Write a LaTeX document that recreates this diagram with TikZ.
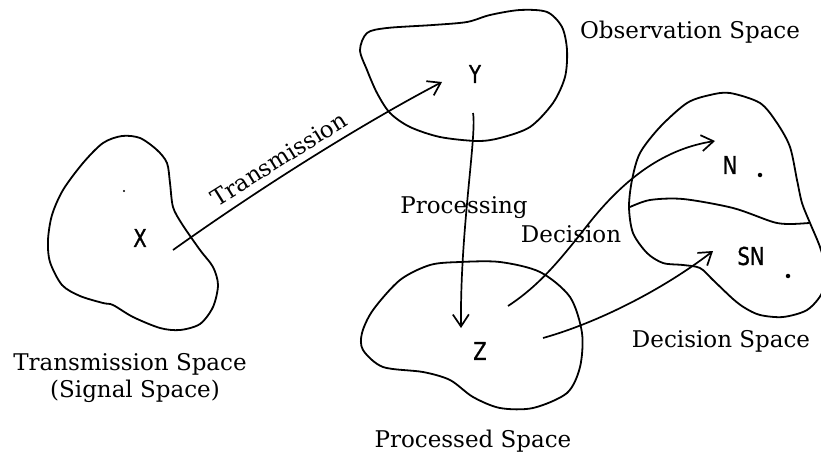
\documentclass[tikz,border=0pt]{standalone}
\usepackage{fontspec}
\setmainfont{DejaVu Serif}
\newfontfamily\lblfont[FakeStretch=0.8,FakeBold=1]{DejaVu Sans}
\usetikzlibrary{arrows.meta}
\begin{document}
\begin{tikzpicture}[x=1pt,y=-1pt,
  blob/.style={line width=1.8pt, line join=round},
  conn/.style={line width=1.7pt, -{Straight Barb[length=12pt,width=16pt,line width=1.7pt]}},
  caption/.style={font=\fontsize{23}{27}\selectfont, inner sep=0pt, anchor=base},
  letter/.style={font=\lblfont\fontsize{24.5}{28}\selectfont, inner sep=0pt},
  spot/.style={fill=black, circle, inner sep=0pt, minimum size=#1},
  spot/.default=4.5pt]
\useasboundingbox (0,0) rectangle (821,455);
\clip (0,0) rectangle (821,455);

% Transmission space blob
\draw[blob] plot[smooth cycle] coordinates {(122,136) (140,138) (157,150) (167,163) (170,183) (173,207) (182,224) (200,250) (213,267) (218,285) (213,307) (200,324) (180,330) (160,328) (133,317) (113,305) (103,303) (80,296) (62,285) (50,262) (48,240) (52,215) (63,190) (83,163) (103,143)};
% Observation space blob
\draw[blob] plot[smooth cycle] coordinates {(360,50) (367,33) (387,28) (433,25) (467,22) (490,15) (520,10) (547,12) (562,27) (567,50) (565,77) (553,103) (530,127) (500,138) (477,141) (440,137) (410,127) (390,113) (377,93) (367,70)};
% Processed space blob
\draw[blob] plot[smooth cycle] coordinates {(460,262) (500,262) (540,272) (570,297) (582,333) (580,367) (567,393) (533,408) (500,408) (473,397) (450,380) (423,372) (383,367) (363,350) (362,333) (373,310) (400,280) (430,265)};
% Decision space blob
\draw[blob] plot[smooth cycle] coordinates {(730,93) (760,103) (777,123) (790,147) (797,180) (802,203) (810,223) (820,247) (826,270) (822,293) (807,310) (783,317) (760,315) (745,308) (733,299) (713,280) (700,268) (683,265) (663,263) (647,253) (633,233) (629,207) (632,180) (640,153) (660,127) (687,103) (710,95)};
\draw[blob] plot[smooth] coordinates {(630,207) (650,200) (683,199) (733,208) (773,222) (790,224) (809,223)};

% stray dot in transmission space
\fill (124,191) circle (1.2pt);

% letters
\node[letter] (X) at (140,238) {X};
\node[letter] (Y) at (475,74) {Y};
\node[letter] (Z) at (480,351) {Z};
\node[letter] (N) at (730,165) {N};
\node[letter] (SN) at (751,256) {SN};
\node[spot] (ndot) at (760,175) {};
\node[spot] (sndot) at (788,276) {};

% connector end points
\coordinate (xs) at (173,250);
\coordinate (ye) at (442,82);
\coordinate (ys) at (473,113);
\coordinate (ze) at (461,328);
\coordinate (zs1) at (508,306);
\coordinate (zm1) at (590,222);
\coordinate (ne) at (715,141);
\coordinate (zs2) at (543,338);
\coordinate (sne) at (713,251);

% connectors
\draw[conn] (xs) .. controls (260,188) and (360,125) .. (ye);
\draw[conn] (ys) .. controls (477,135) and (460,230) .. (ze);
\draw[conn] (zs1) .. controls (540,285) and (560,260) .. (zm1) .. controls (630,172) and (670,148) .. (ne);
\draw[conn] (zs2) .. controls (600,322) and (665,288) .. (sne);

% connector labels
\node[caption, rotate=32] (ltrans) at (283,166) {Transmission};
\node[caption] (lproc) at (464,213) {Processing};
\node[caption] (ldec) at (571,242) {Decision};

% space captions
\node[caption] (cobs) at (690,38) {Observation Space};
\node[caption] (ctrans) at (130,370) {Transmission Space};
\node[caption] (csig) at (135,397) {(Signal Space)};
\node[caption] (cproc) at (473,447) {Processed Space};
\node[caption] (cdec) at (721,347) {Decision Space};
\end{tikzpicture}
\end{document}
